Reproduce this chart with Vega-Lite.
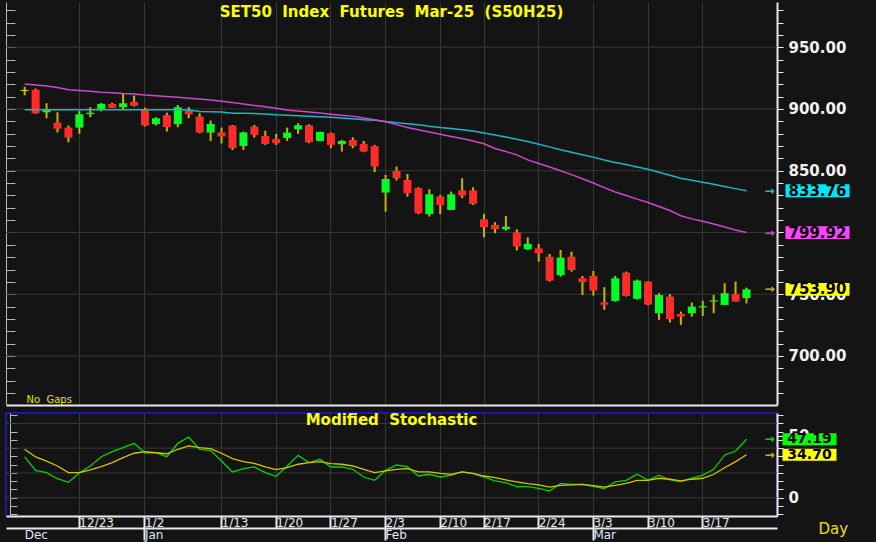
{
  "$schema": "https://vega.github.io/schema/vega-lite/v6.json",
  "background": "#141414",
  "padding": {"left": 4, "top": 2, "right": 28, "bottom": 2},
  "config": {
    "font": "DejaVu Sans",
    "view": {"stroke": null, "fill": "#141414"},
    "axis": {"labelFont": "DejaVu Sans", "titleFont": "DejaVu Sans", "labelOverlap": false}
  },
  "spacing": 7,
  "datasets": {
    "grid1": [{"g": 700}, {"g": 750}, {"g": 800}, {"g": 850}, {"g": 900}, {"g": 950}],
    "grid2": [{"g": 0}, {"g": 20}, {"g": 40}, {"g": 60}]
  },
  "data": {"values": [
    {"d":"2024-12-16","o":914.6,"h":918,"l":911,"c":915.4,"m1":920.2,"m2":899.3,"k":32.9,"s":39.1},
    {"d":"2024-12-17","o":915.4,"h":916.5,"l":896,"c":896.5,"m1":919.4,"m2":899.3,"k":22.1,"s":32.9},
    {"d":"2024-12-18","o":897.3,"h":904.6,"l":892.5,"c":899.7,"m1":918.5,"m2":899.3,"k":20.2,"s":29.6},
    {"d":"2024-12-19","o":888.9,"h":897.3,"l":880.9,"c":884.1,"m1":917.3,"m2":899.3,"k":15.3,"s":25.6},
    {"d":"2024-12-20","o":884.9,"h":886.6,"l":873,"c":876.8,"m1":915.5,"m2":899.3,"k":12.4,"s":20.2},
    {"d":"2024-12-23","o":884.9,"h":898.4,"l":879.8,"c":895.7,"m1":915,"m2":899.3,"k":20.2,"s":20.2},
    {"d":"2024-12-24","o":895.8,"h":901.4,"l":893.3,"c":897,"m1":914.3,"m2":899.3,"k":25.6,"s":22.4},
    {"d":"2024-12-25","o":900,"h":904.8,"l":898,"c":904.1,"m1":913.6,"m2":899.3,"k":33.1,"s":25},
    {"d":"2024-12-26","o":904.1,"h":905,"l":900.8,"c":900.9,"m1":913.1,"m2":899.3,"k":37.2,"s":28.3},
    {"d":"2024-12-27","o":901.4,"h":912.7,"l":899.8,"c":904.6,"m1":912.5,"m2":899.3,"k":40.4,"s":32.3},
    {"d":"2024-12-30","o":905.7,"h":910.8,"l":902,"c":902.5,"m1":912.1,"m2":899.3,"k":43.9,"s":35.9},
    {"d":"2025-01-02","o":899.8,"h":901.1,"l":885.8,"c":886.6,"m1":911.3,"m2":899.3,"k":36.3,"s":37.2},
    {"d":"2025-01-03","o":887.7,"h":893.3,"l":886.6,"c":892.5,"m1":910.6,"m2":899.3,"k":36.3,"s":36.3},
    {"d":"2025-01-06","o":895,"h":897,"l":881.7,"c":885.3,"m1":910,"m2":899.3,"k":33.1,"s":35.5},
    {"d":"2025-01-07","o":887.7,"h":903.2,"l":885.2,"c":901.4,"m1":909.4,"m2":899.3,"k":43.9,"s":39.1},
    {"d":"2025-01-08","o":898.5,"h":901.4,"l":892.5,"c":895.7,"m1":908.7,"m2":899.2,"k":49,"s":41.8},
    {"d":"2025-01-09","o":893.8,"h":896.5,"l":880.3,"c":880.9,"m1":908,"m2":898,"k":39.1,"s":40.4},
    {"d":"2025-01-10","o":880.9,"h":890.6,"l":874.1,"c":887.9,"m1":907.2,"m2":897.8,"k":38.3,"s":39.6},
    {"d":"2025-01-13","o":880.9,"h":884.9,"l":872.1,"c":877.7,"m1":906.3,"m2":897.6,"k":29.6,"s":35.9},
    {"d":"2025-01-14","o":886.6,"h":887,"l":866.8,"c":868.3,"m1":905.2,"m2":896.6,"k":20.8,"s":31.5},
    {"d":"2025-01-15","o":870,"h":881.7,"l":866.8,"c":881,"m1":904,"m2":896.5,"k":23.4,"s":29.1},
    {"d":"2025-01-16","o":885.7,"h":887,"l":876.8,"c":879,"m1":902.8,"m2":896.3,"k":24.8,"s":27.8},
    {"d":"2025-01-17","o":878.1,"h":882.4,"l":870.9,"c":871.7,"m1":901.8,"m2":896,"k":20.2,"s":24.8},
    {"d":"2025-01-20","o":875.7,"h":879.8,"l":870.9,"c":872.3,"m1":900.6,"m2":895.3,"k":17.3,"s":22.6},
    {"d":"2025-01-21","o":876.5,"h":884.9,"l":874.1,"c":880.9,"m1":899.1,"m2":895,"k":25.6,"s":24.2},
    {"d":"2025-01-22","o":883.6,"h":888.5,"l":879.8,"c":886.8,"m1":898.3,"m2":894.5,"k":34.2,"s":27},
    {"d":"2025-01-23","o":886.8,"h":887.7,"l":872.3,"c":873.1,"m1":897.5,"m2":894,"k":28.3,"s":28.3},
    {"d":"2025-01-24","o":874.1,"h":881.6,"l":873.9,"c":881.4,"m1":896.7,"m2":893.6,"k":31,"s":29.1},
    {"d":"2025-01-27","o":880.3,"h":880.9,"l":868.2,"c":870.9,"m1":895.8,"m2":893.2,"k":24.8,"s":27.5},
    {"d":"2025-01-28","o":871.5,"h":874.9,"l":865.5,"c":874.1,"m1":895,"m2":892.7,"k":24.8,"s":27},
    {"d":"2025-01-29","o":874.9,"h":877.1,"l":868.2,"c":870,"m1":894.2,"m2":892,"k":22.9,"s":25.6},
    {"d":"2025-01-30","o":871.7,"h":874.1,"l":865,"c":865.5,"m1":892.7,"m2":891.3,"k":16.7,"s":22.9},
    {"d":"2025-01-31","o":870,"h":870.9,"l":848.8,"c":853.4,"m1":891.2,"m2":890.8,"k":14,"s":20.2},
    {"d":"2025-02-03","o":832.3,"h":846.6,"l":816.9,"c":843.3,"m1":889.6,"m2":889.9,"k":22.1,"s":21.6},
    {"d":"2025-02-04","o":849.8,"h":853.4,"l":842,"c":843.9,"m1":887.3,"m2":888.9,"k":26.4,"s":22.9},
    {"d":"2025-02-05","o":842.5,"h":847.4,"l":829.1,"c":831.8,"m1":885,"m2":888.1,"k":25,"s":23.4},
    {"d":"2025-02-06","o":835.8,"h":836.6,"l":814.8,"c":815.6,"m1":883.1,"m2":887.3,"k":17.5,"s":20.8},
    {"d":"2025-02-07","o":814.8,"h":835,"l":812.9,"c":830.9,"m1":881.3,"m2":886,"k":18.9,"s":20.8},
    {"d":"2025-02-10","o":829.1,"h":830.4,"l":814.8,"c":822.3,"m1":879.5,"m2":885,"k":16.7,"s":19.7},
    {"d":"2025-02-11","o":818.2,"h":833.1,"l":818,"c":830.9,"m1":877.7,"m2":884.2,"k":18.3,"s":18.9},
    {"d":"2025-02-13","o":834,"h":843.9,"l":827.8,"c":829.9,"m1":876,"m2":883.2,"k":20.8,"s":20.8},
    {"d":"2025-02-14","o":834,"h":836.6,"l":822.3,"c":823.1,"m1":874,"m2":882.2,"k":19.4,"s":19.7},
    {"d":"2025-02-17","o":810.7,"h":815,"l":796.1,"c":804.3,"m1":871.8,"m2":880.5,"k":16.7,"s":17.5},
    {"d":"2025-02-18","o":806.1,"h":808.3,"l":799.4,"c":802.7,"m1":868,"m2":879,"k":13.5,"s":16.2},
    {"d":"2025-02-19","o":802.7,"h":813.4,"l":801.5,"c":804.7,"m1":865.5,"m2":877.3,"k":12.1,"s":14.3},
    {"d":"2025-02-20","o":800,"h":802.6,"l":785.4,"c":788.7,"m1":862.8,"m2":875.5,"k":8.9,"s":12.7},
    {"d":"2025-02-21","o":786.5,"h":796.1,"l":785.8,"c":790.8,"m1":858.8,"m2":873.6,"k":8.9,"s":11.3},
    {"d":"2025-02-24","o":787.2,"h":790.8,"l":776.4,"c":783.2,"m1":855.8,"m2":871.5,"k":7.6,"s":10.3},
    {"d":"2025-02-25","o":780.4,"h":782.6,"l":760.2,"c":761,"m1":853,"m2":869.3,"k":5.4,"s":8.6},
    {"d":"2025-02-26","o":765.6,"h":785.8,"l":764.2,"c":779.6,"m1":850,"m2":867,"k":11.6,"s":10},
    {"d":"2025-02-27","o":780.4,"h":784.5,"l":768.3,"c":769.6,"m1":846.8,"m2":865,"k":10.8,"s":10.3},
    {"d":"2025-02-28","o":762.9,"h":764.8,"l":749.4,"c":759.8,"m1":843.5,"m2":863,"k":10.8,"s":10.8},
    {"d":"2025-03-03","o":764.8,"h":768.9,"l":748.9,"c":753,"m1":840,"m2":861,"k":9.2,"s":9.7},
    {"d":"2025-03-04","o":743.3,"h":755.7,"l":737.3,"c":741.5,"m1":836.3,"m2":858.7,"k":7.3,"s":8.6},
    {"d":"2025-03-05","o":744.6,"h":764.8,"l":744,"c":762.9,"m1":832.8,"m2":856.7,"k":12.7,"s":10},
    {"d":"2025-03-06","o":767.5,"h":768.3,"l":748.1,"c":748.6,"m1":830,"m2":855,"k":14,"s":11.6},
    {"d":"2025-03-07","o":746.3,"h":761.9,"l":745.7,"c":761.1,"m1":827,"m2":853,"k":18.9,"s":14},
    {"d":"2025-03-10","o":760.3,"h":760.5,"l":741,"c":741.7,"m1":824.3,"m2":851.2,"k":14.3,"s":14},
    {"d":"2025-03-11","o":734.6,"h":750.8,"l":729.2,"c":749.4,"m1":821,"m2":848.8,"k":18.1,"s":15.7},
    {"d":"2025-03-12","o":748.1,"h":750.1,"l":727.1,"c":729.8,"m1":817.8,"m2":846.3,"k":14.3,"s":14.9},
    {"d":"2025-03-13","o":734,"h":735.9,"l":725.1,"c":731.9,"m1":813.5,"m2":843.9,"k":12.9,"s":13.5},
    {"d":"2025-03-14","o":734.6,"h":743.2,"l":731.9,"c":740,"m1":811,"m2":842.3,"k":15.7,"s":14.9},
    {"d":"2025-03-17","o":739.3,"h":744.8,"l":732.4,"c":740.3,"m1":809,"m2":840.6,"k":18.3,"s":15.7},
    {"d":"2025-03-18","o":744,"h":749.4,"l":734.6,"c":745,"m1":806.8,"m2":839,"k":22.9,"s":18.9},
    {"d":"2025-03-19","o":741.3,"h":758.9,"l":741.3,"c":750.8,"m1":804.5,"m2":837.2,"k":34.5,"s":24.2},
    {"d":"2025-03-20","o":750.1,"h":760.3,"l":744,"c":744,"m1":802,"m2":835.5,"k":37.7,"s":29.1},
    {"d":"2025-03-21","o":746.8,"h":755.3,"l":742.5,"c":753.9,"m1":799.92,"m2":833.76,"k":47.19,"s":34.7}
  ]},
  "vconcat": [
    {
      "width": 771,
      "height": 403,
      "title": {"text": "SET50\u00a0\u00a0Index\u00a0\u00a0Futures\u00a0\u00a0Mar-25\u00a0\u00a0(S50H25)", "color": "#ffff00", "fontSize": 15, "fontWeight": "bold", "font": "DejaVu Sans", "anchor": "middle", "frame": "group", "offset": -18},
      "resolve": {"axis": {"y": "independent"}},
      "layer": [
        {
          "data": {"name": "grid1"},
          "mark": {"type": "rule", "color": "#383838", "strokeWidth": 1},
          "encoding": {"y": {"field": "g", "type": "quantitative",
            "axis": {"orient": "right", "title": null,
              "values": [670,680,690,700,710,720,730,740,750,760,770,780,790,800,810,820,830,840,850,860,870,880,890,900,910,920,930,940,950,960,970,980],
              "labels": false, "ticks": true, "tickSize": 6, "tickColor": "#e8e8e8",
              "domain": true, "domainColor": "#e8e8e8", "domainWidth": 2, "grid": false}}}
        },
        {
          "mark": {"type": "rule", "color": "#c8b400", "strokeWidth": 2},
          "encoding": {
            "x": {"field": "d", "type": "ordinal",
              "scale": {"type": "band", "paddingInner": 0, "paddingOuter": 0.2485, "align": 0.417,
                "domain": ["2024-12-13","2024-12-16","2024-12-17","2024-12-18","2024-12-19","2024-12-20","2024-12-23","2024-12-24","2024-12-25","2024-12-26","2024-12-27","2024-12-30","2025-01-02","2025-01-03","2025-01-06","2025-01-07","2025-01-08","2025-01-09","2025-01-10","2025-01-13","2025-01-14","2025-01-15","2025-01-16","2025-01-17","2025-01-20","2025-01-21","2025-01-22","2025-01-23","2025-01-24","2025-01-27","2025-01-28","2025-01-29","2025-01-30","2025-01-31","2025-02-03","2025-02-04","2025-02-05","2025-02-06","2025-02-07","2025-02-10","2025-02-11","2025-02-13","2025-02-14","2025-02-17","2025-02-18","2025-02-19","2025-02-20","2025-02-21","2025-02-24","2025-02-25","2025-02-26","2025-02-27","2025-02-28","2025-03-03","2025-03-04","2025-03-05","2025-03-06","2025-03-07","2025-03-10","2025-03-11","2025-03-12","2025-03-13","2025-03-14","2025-03-17","2025-03-18","2025-03-19","2025-03-20","2025-03-21","2025-03-24","2025-03-25"]},
              "axis": {"orient": "bottom", "values": ["2024-12-23","2025-01-02","2025-01-13","2025-01-20","2025-01-27","2025-02-03","2025-02-10","2025-02-17","2025-02-24","2025-03-03","2025-03-10","2025-03-17"],
                "labels": false, "ticks": false, "domain": true, "domainColor": "#e8e8e8", "domainWidth": 2,
                "grid": true, "gridColor": "#383838",
                "title": "No\u00a0\u00a0Gaps", "titleColor": "#e8e000", "titleFontSize": 10, "titleFontWeight": "normal",
                "titleAnchor": "start", "titleAlign": "left", "titleX": 20, "titleY": -3, "titleBaseline": "alphabetic"}},
            "y": {"field": "l", "type": "quantitative",
              "scale": {"domain": [660.3, 986.6], "zero": false, "nice": false},
              "axis": {"orient": "right", "title": null,
                "values": [700, 750, 800, 850, 900, 950], "format": ".2f",
                "labelOverlap": false, "labelFontSize": 15, "labelFontWeight": "bold", "labelColor": "#f2f2f2", "labelPadding": 5,
                "tickSize": 6, "tickColor": "#e8e8e8", "domain": false, "grid": false}},
            "y2": {"field": "h"}
          }
        },
        {
          "mark": {"type": "bar", "size": 8},
          "encoding": {
            "x": {"field": "d", "type": "ordinal"},
            "y": {"field": "o", "type": "quantitative",
              "axis": {"orient": "left", "title": null,
                "values": [670,680,690,700,710,720,730,740,750,760,770,780,790,800,810,820,830,840,850,860,870,880,890,900,910,920,930,940,950,960,970,980],
                "labels": false, "ticks": true, "tickSize": -9, "tickColor": "#b8b8b8",
                "domain": true, "domainColor": "#b8b8b8", "domainWidth": 1, "grid": false}},
            "y2": {"field": "c"},
            "color": {"condition": [
              {"test": "abs(datum.c - datum.o) < 0.9", "value": "#e8d800"},
              {"test": "datum.c > datum.o", "value": "#00ff22"}], "value": "#ff2a2a"}
          }
        },
        {
          "mark": {"type": "line", "color": "#1ab6c6", "strokeWidth": 1.5},
          "encoding": {
            "x": {"field": "d", "type": "ordinal"},
            "y": {"field": "m2", "type": "quantitative", "axis": null}
          }
        },
        {
          "mark": {"type": "line", "color": "#cc48cc", "strokeWidth": 1.5},
          "encoding": {
            "x": {"field": "d", "type": "ordinal"},
            "y": {"field": "m1", "type": "quantitative", "axis": null}
          }
        },
        {
          "transform": [{"filter": "datum.d == '2025-03-21'"}, {"fold": ["m2", "m1", "c"], "as": ["key", "v"]}],
          "layer": [
            {
              "mark": {"type": "text", "dx": 23, "fontSize": 12, "fontWeight": "bold", "align": "center", "baseline": "middle"},
              "encoding": {
                "x": {"field": "d", "type": "ordinal"},
                "y": {"field": "v", "type": "quantitative", "axis": null},
                "text": {"value": "→"},
                "color": {"condition": [
                  {"test": "datum.key == 'm2'", "value": "#1ab6c6"},
                  {"test": "datum.key == 'm1'", "value": "#cc48cc"}], "value": "#c8b400"}
              }
            },
            {
              "mark": {"type": "point", "shape": "M-1,-0.2L1,-0.2L1,0.2L-1,0.2Z", "size": 4096, "filled": true, "opacity": 1, "strokeWidth": 0, "xOffset": 71},
              "encoding": {
                "x": {"field": "d", "type": "ordinal"},
                "y": {"field": "v", "type": "quantitative", "axis": null},
                "color": {"condition": [
                  {"test": "datum.key == 'm2'", "value": "#00e6f6"},
                  {"test": "datum.key == 'm1'", "value": "#ff44ff"}], "value": "#ffff00"}
              }
            },
            {
              "mark": {"type": "text", "dx": 71, "fontSize": 15, "fontWeight": "bold", "align": "center", "baseline": "middle", "color": "#000000"},
              "encoding": {
                "x": {"field": "d", "type": "ordinal"},
                "y": {"field": "v", "type": "quantitative", "axis": null},
                "text": {"field": "v", "type": "quantitative", "format": ".2f"}
              }
            }
          ]
        }
      ]
    },
    {
      "width": 771,
      "height": 103,
      "view": {"stroke": "#1a1aa8", "strokeWidth": 2, "fill": "#141414"},
      "title": {"text": "Modified\u00a0\u00a0Stochastic", "color": "#ffff00", "fontSize": 15, "fontWeight": "bold", "font": "DejaVu Sans", "anchor": "middle", "frame": "group", "offset": -15},
      "resolve": {"axis": {"x": "independent", "y": "independent"}},
      "layer": [
        {
          "data": {"name": "grid2"},
          "mark": {"type": "rule", "color": "#383838", "strokeWidth": 1},
          "encoding": {"y": {"field": "g", "type": "quantitative",
            "axis": {"orient": "right", "title": null,
              "values": [-13.33,-6.67,0,6.67,13.33,20,26.67,33.33,40,46.67,53.33,60,66.67],
              "labels": false, "ticks": true, "tickSize": 6, "tickColor": "#e8e8e8",
              "domain": true, "domainColor": "#e8e8e8", "domainWidth": 2, "grid": false}}}
        },
        {
          "mark": {"type": "line", "color": "#00d400", "strokeWidth": 1.3},
          "encoding": {
            "x": {"field": "d", "type": "ordinal",
              "scale": {"type": "band", "paddingInner": 0, "paddingOuter": 0.2485, "align": 0.417,
                "domain": ["2024-12-13","2024-12-16","2024-12-17","2024-12-18","2024-12-19","2024-12-20","2024-12-23","2024-12-24","2024-12-25","2024-12-26","2024-12-27","2024-12-30","2025-01-02","2025-01-03","2025-01-06","2025-01-07","2025-01-08","2025-01-09","2025-01-10","2025-01-13","2025-01-14","2025-01-15","2025-01-16","2025-01-17","2025-01-20","2025-01-21","2025-01-22","2025-01-23","2025-01-24","2025-01-27","2025-01-28","2025-01-29","2025-01-30","2025-01-31","2025-02-03","2025-02-04","2025-02-05","2025-02-06","2025-02-07","2025-02-10","2025-02-11","2025-02-13","2025-02-14","2025-02-17","2025-02-18","2025-02-19","2025-02-20","2025-02-21","2025-02-24","2025-02-25","2025-02-26","2025-02-27","2025-02-28","2025-03-03","2025-03-04","2025-03-05","2025-03-06","2025-03-07","2025-03-10","2025-03-11","2025-03-12","2025-03-13","2025-03-14","2025-03-17","2025-03-18","2025-03-19","2025-03-20","2025-03-21","2025-03-24","2025-03-25"]},
              "axis": {"orient": "bottom", "title": null,
                "values": ["2024-12-23","2025-01-02","2025-01-13","2025-01-20","2025-01-27","2025-02-03","2025-02-10","2025-02-17","2025-02-24","2025-03-03","2025-03-10","2025-03-17"],
                "labelExpr": "utcFormat(toDate(datum.value), '%-m/%-d')",
                "labelAngle": 0, "labelAlign": "left", "labelBaseline": "top", "labelPadding": -11, "labelDx": 3,
                "labelFontSize": 12, "labelColor": "#e8e8e8", "labelOverlap": false, "labelFlush": false, "labelBound": false,
                "tickSize": 12, "tickColor": "#e8e8e8", "tickWidth": 2,
                "domainColor": "#e8e8e8", "domainWidth": 2,
                "grid": true, "gridColor": "#383838"}},
            "y": {"field": "k", "type": "quantitative",
              "scale": {"domain": [-14.8, 68.4], "zero": false, "nice": false},
              "axis": {"orient": "right", "title": null,
                "values": [0, 50], "format": "d",
                "labelOverlap": false, "labelFontSize": 15, "labelFontWeight": "bold", "labelColor": "#f2f2f2", "labelPadding": 5,
                "tickSize": 6, "tickColor": "#e8e8e8", "domain": false, "grid": false}}
          }
        },
        {
          "mark": {"type": "line", "color": "#d4c400", "strokeWidth": 1.3},
          "encoding": {
            "x": {"field": "d", "type": "ordinal",
              "axis": {"orient": "bottom", "offset": 12,
                "values": ["2024-12-16","2025-01-02","2025-02-03","2025-03-03"],
                "labelExpr": "utcFormat(toDate(datum.value), '%b')",
                "labelAngle": 0, "labelAlign": "left", "labelBaseline": "top", "labelPadding": -11, "labelDx": 1,
                "labelFontSize": 12, "labelColor": "#dfe6ff", "labelOverlap": false, "labelFlush": false, "labelBound": false,
                "tickSize": 12, "tickColor": "#e8e8e8", "tickWidth": 2,
                "tickOpacity": {"condition": {"test": "datum.value == '2024-12-16'", "value": 0}, "value": 1},
                "domainColor": "#e8e8e8", "domainWidth": 2, "grid": false,
                "title": "Day", "titleColor": "#e8e000", "titleFontSize": 15, "titleFontWeight": "normal",
                "titleAnchor": "start", "titleAlign": "left", "titleX": 812, "titleY": 5, "titleBaseline": "alphabetic"}},
            "y": {"field": "s", "type": "quantitative",
              "axis": {"orient": "left", "title": null, "offset": -4,
                "values": [-13.33,-6.67,0,6.67,13.33,20,26.67,33.33,40,46.67,53.33,60,66.67],
                "labels": false, "ticks": true, "tickSize": -7, "tickColor": "#b8b8b8",
                "domain": true, "domainColor": "#b8b8b8", "domainWidth": 1, "grid": false}}
          }
        },
        {
          "transform": [{"filter": "datum.d == '2025-03-21'"}, {"fold": ["k", "s"], "as": ["key", "v"]}],
          "layer": [
            {
              "mark": {"type": "text", "dx": 23, "fontSize": 12, "fontWeight": "bold", "align": "center", "baseline": "middle"},
              "encoding": {
                "x": {"field": "d", "type": "ordinal", "axis": null},
                "y": {"field": "v", "type": "quantitative", "axis": null},
                "text": {"value": "→"},
                "color": {"condition": {"test": "datum.key == 'k'", "value": "#00d400"}, "value": "#c8b400"}
              }
            },
            {
              "mark": {"type": "point", "shape": "M-1,-0.222L1,-0.222L1,0.222L-1,0.222Z", "size": 2916, "filled": true, "opacity": 1, "strokeWidth": 0, "xOffset": 63},
              "encoding": {
                "x": {"field": "d", "type": "ordinal", "axis": null},
                "y": {"field": "v", "type": "quantitative", "axis": null},
                "color": {"condition": {"test": "datum.key == 'k'", "value": "#00ff00"}, "value": "#ffff00"}
              }
            },
            {
              "mark": {"type": "text", "dx": 63, "fontSize": 14, "fontWeight": "bold", "align": "center", "baseline": "middle", "color": "#000000"},
              "encoding": {
                "x": {"field": "d", "type": "ordinal", "axis": null},
                "y": {"field": "v", "type": "quantitative", "axis": null},
                "text": {"field": "v", "type": "quantitative", "format": ".2f"}
              }
            }
          ]
        }
      ]
    }
  ]
}
